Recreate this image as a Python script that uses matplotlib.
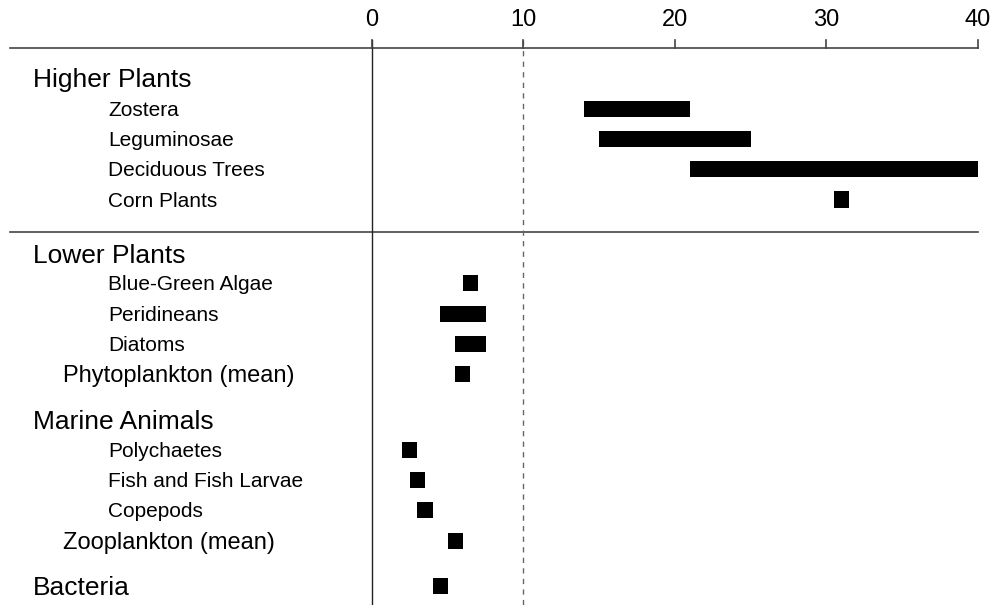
import matplotlib.pyplot as plt

plt.rcParams['font.family'] = ['Liberation Sans', 'DejaVu Sans']

# group headers
groups = ['Higher Plants', 'Lower Plants', 'Marine Animals', 'Bacteria']
# members (name, start, end)
higher_names = ['Zostera', 'Leguminosae', 'Deciduous Trees', 'Corn Plants']
higher_lo = [14, 15, 21, 30.5]
higher_hi = [21, 25, 40, 31.5]

lower_names = ['Blue-Green Algae', 'Peridineans', 'Diatoms']
lower_lo = [6, 4.5, 5.5]
lower_hi = [7, 7.5, 7.5]

marine_names = ['Polychaetes', 'Fish and Fish Larvae', 'Copepods']
marine_lo = [2, 2.5, 3]
marine_hi = [3, 3.5, 4]

mean_names = ['Phytoplankton (mean)', 'Zooplankton (mean)']
mean_lo = [5.5, 5]
mean_hi = [6.5, 6]

bacteria_lo = [4]
bacteria_hi = [5]

ticks = [0, 10, 20, 30, 40]

# row layout (in row units, top axis line at 0)
header_rows = [1.0, 6.8, 12.28, 17.76]
higher_rows = [2.0, 3.0, 4.0, 5.0]
lower_rows = [7.75, 8.77, 9.77]
marine_rows = [13.27, 14.26, 15.25]
mean_rows = [10.76, 16.27]
bacteria_rows = [17.76]
sep_row = 6.07

fig = plt.figure(figsize=(9.93, 6.05), dpi=100)
ax = fig.add_axes([0, 0, 1, 1])
ax.set_xlim(-24.55, 40.99)
ax.set_ylim(18.38, -1.584)
ax.axis('off')

x_head, x_mean, x_sub = -22.38, -20.4, -17.43
line_col = '#444444'
txt_dy = 0.05  # nudge text down a touch

# axis line + separator
ax.plot([-23.9, 40], [0, 0], color=line_col, lw=1.2)
ax.plot([-23.9, 40], [sep_row, sep_row], color=line_col, lw=1.2)
# vertical zero line and dashed 10 line
ax.plot([0, 0], [-0.26, 18.38], color='#222222', lw=1.0)
ax.plot([10, 10], [-0.26, 18.38], color='#666666', lw=1.0, dashes=(3.8, 3.8))
for t in ticks:
    ax.plot([t, t], [0, -0.26], color=line_col, lw=1.2)
    ax.text(t, -0.92, str(t), ha='center', va='center', fontsize=17)

bar_h = 0.53


def draw(names, lo, hi, rows, x, fs):
    for i in range(len(lo)):
        ax.barh(rows[i], hi[i] - lo[i], left=lo[i], height=bar_h, color='black')
        if names is not None:
            ax.text(x, rows[i] + txt_dy, names[i], ha='left', va='center', fontsize=fs)


for g, r in zip(groups, header_rows):
    ax.text(x_head, r + txt_dy, g, ha='left', va='center', fontsize=19)

draw(higher_names, higher_lo, higher_hi, higher_rows, x_sub, 15)
draw(lower_names, lower_lo, lower_hi, lower_rows, x_sub, 15)
draw(marine_names, marine_lo, marine_hi, marine_rows, x_sub, 15)
draw(mean_names, mean_lo, mean_hi, mean_rows, x_mean, 17)
draw(None, bacteria_lo, bacteria_hi, bacteria_rows, x_head, 19)

fig.savefig('out.png', dpi=100)
